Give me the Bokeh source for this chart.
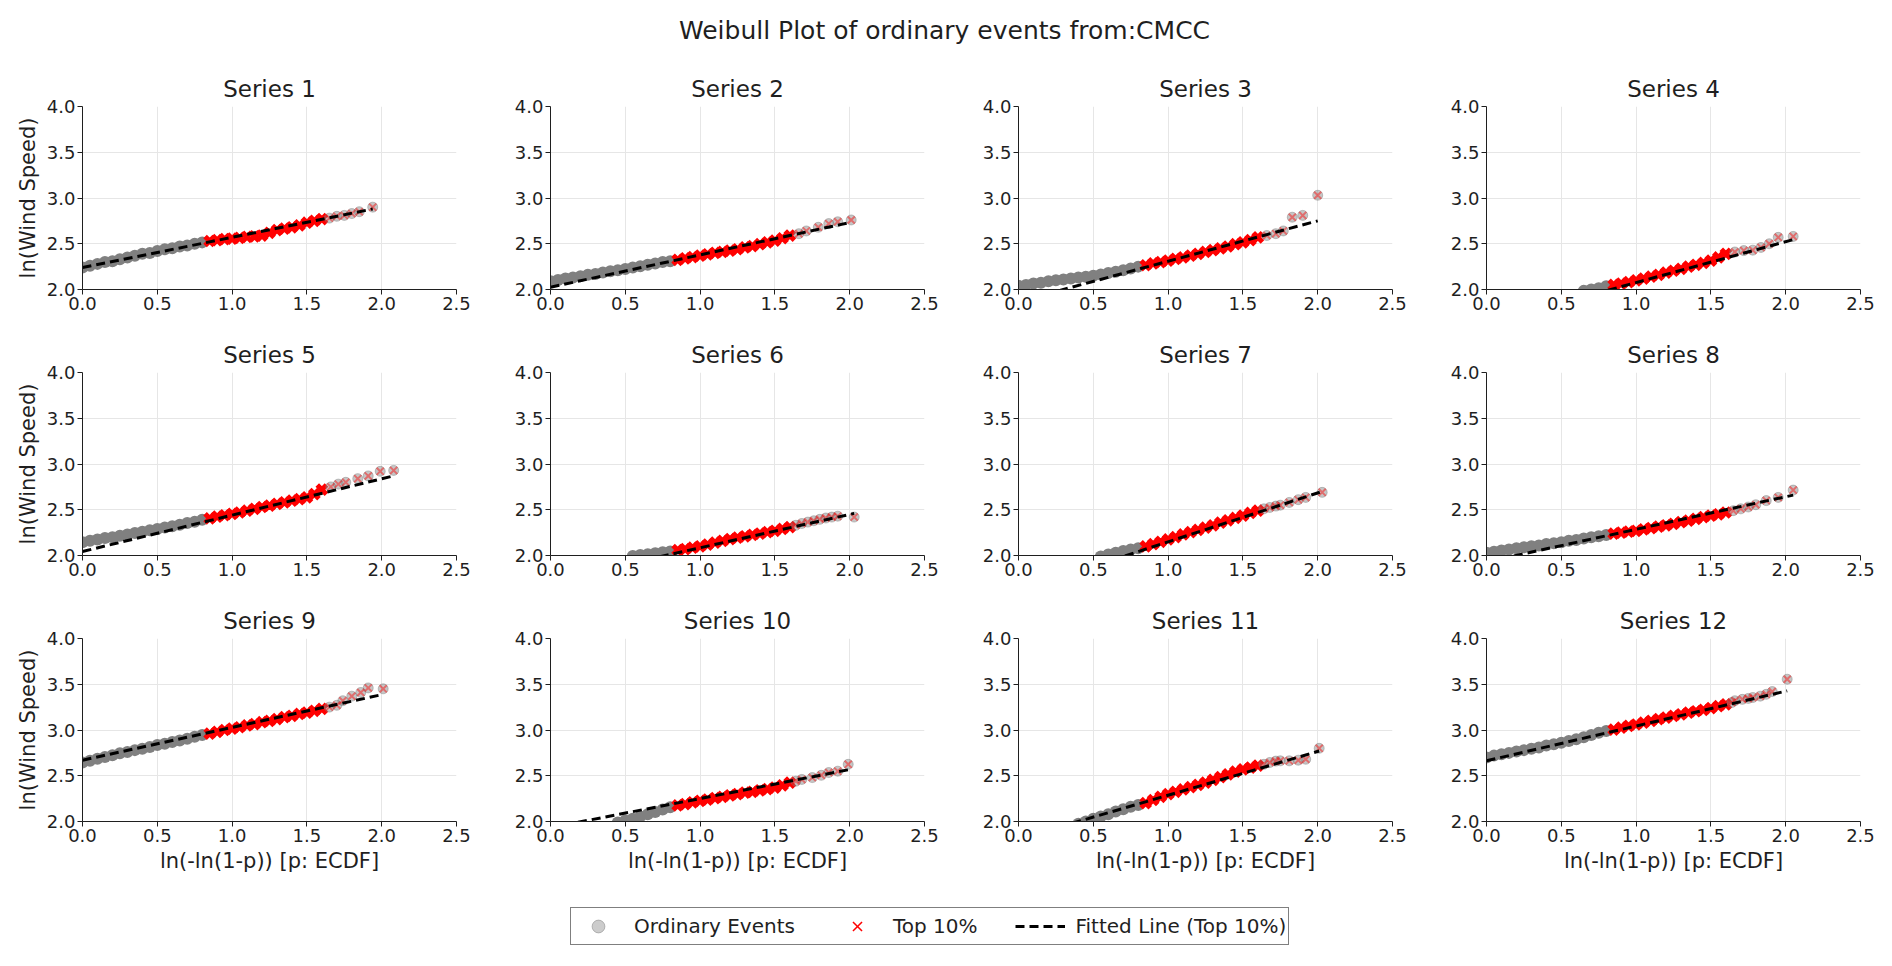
from bokeh.plotting import figure
from bokeh.layouts import column, row
from bokeh.models import FixedTicker, PrintfTickFormatter, Legend, LegendItem, Spacer
from bokeh.embed import file_html
from bokeh.resources import INLINE

FONT = "DejaVu Sans"
INK = "#1f1f1f"

main_title = "Weibull Plot of ordinary events from:CMCC"
x_label = "ln(-ln(1-p)) [p: ECDF]"
y_label = "ln(Wind Speed)"
x_ticks = [0.0, 0.5, 1.0, 1.5, 2.0, 2.5]
y_ticks = [2.0, 2.5, 3.0, 3.5, 4.0]
top_cut = 0.834  # ln(-ln(0.1)) -> top 10%

ecdf_grid = [0.00, 0.05, 0.10, 0.15, 0.20, 0.25, 0.30, 0.35, 0.40, 0.45, 0.50,
             0.55, 0.60, 0.65, 0.70, 0.75, 0.80, 0.85, 0.90, 0.95, 1.00, 1.05,
             1.10, 1.15, 1.20, 1.25, 1.30, 1.35, 1.40, 1.45, 1.50, 1.55, 1.60]

# ln(wind speed) on ecdf_grid, None where the band is below the plot
body_1 = [2.24, 2.26, 2.28, 2.30, 2.31, 2.33, 2.35, 2.37, 2.39, 2.40, 2.42,
          2.44, 2.45, 2.47, 2.48, 2.50, 2.515, 2.53, 2.54, 2.55, 2.555, 2.565,
          2.575, 2.58, 2.59, 2.62, 2.65, 2.665, 2.68, 2.70, 2.73, 2.75, 2.77]
body_2 = [2.09, 2.105, 2.12, 2.13, 2.145, 2.16, 2.17, 2.185, 2.20, 2.21, 2.225,
          2.24, 2.255, 2.27, 2.285, 2.30, 2.31, 2.325, 2.34, 2.355, 2.37, 2.385,
          2.40, 2.41, 2.425, 2.44, 2.46, 2.475, 2.495, 2.515, 2.535, 2.56, 2.59]
body_3 = [2.04, 2.05, 2.065, 2.075, 2.09, 2.10, 2.11, 2.12, 2.13, 2.14, 2.15,
          2.165, 2.18, 2.195, 2.21, 2.23, 2.25, 2.265, 2.285, 2.30, 2.315, 2.335,
          2.35, 2.37, 2.39, 2.41, 2.43, 2.45, 2.47, 2.495, 2.515, 2.54, 2.57]
body_4 = [None, None, None, None, None, None, None, None, None, None, None,
          None, None, 1.985, 2.00, 2.015, 2.035, 2.05, 2.065, 2.08, 2.10, 2.12,
          2.14, 2.16, 2.185, 2.205, 2.225, 2.25, 2.27, 2.29, 2.315, 2.35, 2.39]
body_5 = [2.145, 2.16, 2.175, 2.19, 2.20, 2.215, 2.23, 2.245, 2.26, 2.275, 2.29,
          2.305, 2.32, 2.335, 2.355, 2.37, 2.39, 2.405, 2.425, 2.44, 2.455, 2.47,
          2.49, 2.51, 2.53, 2.545, 2.565, 2.58, 2.60, 2.615, 2.635, 2.67, 2.72]
body_6 = [None, None, None, None, None, None, None, None, None, None, None,
          1.995, 2.005, 2.015, 2.025, 2.035, 2.045, 2.06, 2.07, 2.085, 2.10, 2.12,
          2.14, 2.16, 2.18, 2.195, 2.21, 2.225, 2.24, 2.255, 2.27, 2.29, 2.31]
body_7 = [None, None, None, None, None, None, None, None, None, None, None,
          1.99, 2.01, 2.03, 2.05, 2.065, 2.08, 2.10, 2.125, 2.15, 2.175, 2.20,
          2.23, 2.255, 2.28, 2.305, 2.33, 2.36, 2.385, 2.41, 2.435, 2.465, 2.49]
body_8 = [2.03, 2.04, 2.055, 2.065, 2.08, 2.09, 2.10, 2.11, 2.125, 2.135, 2.145,
          2.16, 2.17, 2.185, 2.20, 2.21, 2.225, 2.24, 2.25, 2.26, 2.27, 2.285,
          2.30, 2.315, 2.33, 2.345, 2.365, 2.38, 2.40, 2.42, 2.435, 2.45, 2.47]
body_9 = [2.645, 2.665, 2.685, 2.705, 2.725, 2.745, 2.76, 2.78, 2.795, 2.815, 2.835,
          2.85, 2.87, 2.885, 2.905, 2.925, 2.945, 2.96, 2.98, 3.00, 3.015, 3.03,
          3.05, 3.065, 3.085, 3.10, 3.12, 3.14, 3.155, 3.175, 3.19, 3.21, 3.23]
body_10 = [None, None, None, None, None, None, None, None, None, 1.99, 2.01,
           2.03, 2.055, 2.08, 2.105, 2.13, 2.155, 2.175, 2.19, 2.21, 2.225, 2.24,
           2.255, 2.27, 2.285, 2.30, 2.315, 2.325, 2.34, 2.355, 2.37, 2.395, 2.425]
body_11 = [None, None, None, None, None, None, None, None, 1.975, 2.00, 2.03,
           2.055, 2.08, 2.11, 2.135, 2.16, 2.18, 2.20, 2.235, 2.27, 2.30, 2.325,
           2.35, 2.375, 2.40, 2.425, 2.455, 2.485, 2.515, 2.545, 2.57, 2.59, 2.61]
body_12 = [2.70, 2.72, 2.735, 2.75, 2.765, 2.78, 2.795, 2.81, 2.83, 2.845, 2.86,
           2.88, 2.90, 2.92, 2.945, 2.97, 2.99, 3.005, 3.025, 3.045, 3.06, 3.08,
           3.10, 3.12, 3.135, 3.155, 3.17, 3.19, 3.205, 3.22, 3.24, 3.26, 3.28]

# sparse upper tail, point by point
tail_x_1 = [1.65, 1.70, 1.75, 1.80, 1.85, 1.94]
tail_y_1 = [2.78, 2.80, 2.81, 2.83, 2.85, 2.90]
tail_x_2 = [1.66, 1.71, 1.79, 1.86, 1.92, 2.01]
tail_y_2 = [2.61, 2.64, 2.68, 2.72, 2.74, 2.76]
tail_x_3 = [1.66, 1.72, 1.77, 1.83, 1.90, 2.00]
tail_y_3 = [2.59, 2.61, 2.64, 2.79, 2.81, 3.03]
tail_x_4 = [1.66, 1.72, 1.78, 1.835, 1.89, 1.95, 2.05]
tail_y_4 = [2.41, 2.425, 2.43, 2.46, 2.50, 2.57, 2.58]
tail_x_5 = [1.66, 1.71, 1.76, 1.84, 1.91, 1.99, 2.08]
tail_y_5 = [2.75, 2.78, 2.80, 2.84, 2.87, 2.92, 2.93]
tail_x_6 = [1.64, 1.68, 1.72, 1.76, 1.80, 1.84, 1.88, 1.92, 2.03]
tail_y_6 = [2.33, 2.35, 2.365, 2.38, 2.395, 2.41, 2.42, 2.43, 2.42]
tail_x_7 = [1.64, 1.68, 1.72, 1.75, 1.81, 1.87, 1.92, 2.03]
tail_y_7 = [2.51, 2.525, 2.54, 2.55, 2.58, 2.61, 2.635, 2.69]
tail_x_8 = [1.65, 1.70, 1.75, 1.80, 1.87, 1.95, 2.05]
tail_y_8 = [2.49, 2.51, 2.53, 2.555, 2.60, 2.635, 2.715]
tail_x_9 = [1.65, 1.70, 1.74, 1.80, 1.86, 1.91, 2.01]
tail_y_9 = [3.25, 3.27, 3.32, 3.37, 3.41, 3.46, 3.45]
tail_x_10 = [1.64, 1.68, 1.75, 1.81, 1.86, 1.92, 1.99]
tail_y_10 = [2.44, 2.46, 2.48, 2.505, 2.535, 2.55, 2.625]
tail_x_11 = [1.64, 1.68, 1.72, 1.75, 1.81, 1.87, 1.92, 2.01]
tail_y_11 = [2.625, 2.645, 2.66, 2.663, 2.663, 2.67, 2.68, 2.80]
tail_x_12 = [1.64, 1.66, 1.71, 1.75, 1.78, 1.83, 1.87, 1.91, 2.01]
tail_y_12 = [3.30, 3.32, 3.335, 3.345, 3.355, 3.37, 3.39, 3.42, 3.555]

# fitted line (top 10%): value at x = 0 and at the last point
fit_y_start = [2.24, 2.025, 1.868, 1.629, 2.044, 1.72, 1.615, 1.93, 2.67, 1.933, 1.809, 2.663]
fit_y_end = [2.88, 2.735, 2.75, 2.545, 2.87, 2.46, 2.70, 2.66, 3.39, 2.565, 2.77, 3.428]

bodies = [body_1, body_2, body_3, body_4, body_5, body_6,
          body_7, body_8, body_9, body_10, body_11, body_12]
tails_x = [tail_x_1, tail_x_2, tail_x_3, tail_x_4, tail_x_5, tail_x_6,
           tail_x_7, tail_x_8, tail_x_9, tail_x_10, tail_x_11, tail_x_12]
tails_y = [tail_y_1, tail_y_2, tail_y_3, tail_y_4, tail_y_5, tail_y_6,
           tail_y_7, tail_y_8, tail_y_9, tail_y_10, tail_y_11, tail_y_12]


def make_panel(i, last_row, first_col):
    h = 283 if last_row else 266
    p = figure(width=468, height=h, x_range=(0, 2.5), y_range=(2, 4),
               toolbar_location=None, tools="", output_backend="svg",
               min_border_left=74, min_border_right=20, min_border_top=40,
               min_border_bottom=60 if last_row else 43)
    p.title.text = "Series %d" % (i + 1)
    p.title.align = "center"
    p.title.text_font = FONT
    p.title.text_font_size = "23px"
    p.title.text_font_style = "normal"
    p.title.text_color = INK
    p.title.standoff = 10
    p.outline_line_color = None

    pts = [(x, y) for x, y in zip(ecdf_grid, bodies[i]) if y is not None]
    ord_x = [x for x, y in pts if x < top_cut]
    ord_y = [y for x, y in pts if x < top_cut]
    top_x = [x for x, y in pts if x >= top_cut]
    top_y = [y for x, y in pts if x >= top_cut]

    # dense part: many overlapping events, drawn opaque
    p.scatter(ord_x, ord_y, marker="circle", size=12, fill_color="#808080",
              line_color=None)
    p.scatter(top_x, top_y, marker="x", size=13, line_color="red", line_width=5)
    # sparse tail: single translucent events
    p.scatter(tails_x[i], tails_y[i], marker="circle", size=10, fill_color="gray",
              fill_alpha=0.45, line_color="gray", line_alpha=0.45)
    p.scatter(tails_x[i], tails_y[i], marker="x", size=10, line_color="red",
              line_alpha=0.45, line_width=2)
    p.line([0, tails_x[i][-1]], [fit_y_start[i], fit_y_end[i]],
           line_color="black", line_width=3, line_dash="9 5")

    p.xaxis.ticker = FixedTicker(ticks=x_ticks)
    p.yaxis.ticker = FixedTicker(ticks=y_ticks)
    p.xaxis.formatter = PrintfTickFormatter(format="%.1f")
    p.yaxis.formatter = PrintfTickFormatter(format="%.1f")
    p.grid.grid_line_color = "#e6e6e6"
    p.grid.grid_line_width = 1
    p.axis.axis_line_color = INK
    p.axis.major_tick_line_color = INK
    p.axis.major_tick_out = 5
    p.axis.major_tick_in = 0
    p.axis.minor_tick_line_color = None
    p.axis.major_label_text_font = FONT
    p.axis.major_label_text_font_size = "18px"
    p.axis.major_label_text_color = INK
    p.axis.major_label_standoff = 2
    p.axis.axis_label_text_font = FONT
    p.axis.axis_label_text_font_size = "21px"
    p.axis.axis_label_text_font_style = "normal"
    p.axis.axis_label_text_color = INK
    p.axis.axis_label_standoff = 4
    if first_col:
        p.yaxis.axis_label = y_label
    if last_row:
        p.xaxis.axis_label = x_label
    return p


panels = [make_panel(i, i >= 8, i % 4 == 0) for i in range(12)]

head = figure(width=1872, height=66, x_range=(0, 1), y_range=(0, 1),
              x_axis_type=None, y_axis_type=None, toolbar_location=None, tools="",
              output_backend="svg", min_border_left=0, min_border_right=0,
              min_border_bottom=0, min_border_top=49, title=main_title)
head.outline_line_color = None
head.grid.visible = False
head.title.align = "center"
head.title.text_font = FONT
head.title.text_font_size = "25px"
head.title.text_font_style = "normal"
head.title.text_color = INK

foot = figure(width=1872, height=75, x_range=(0, 1), y_range=(0, 1),
              x_axis_type=None, y_axis_type=None, toolbar_location=None, tools="",
              output_backend="svg", min_border=0)
foot.outline_line_color = None
foot.grid.visible = False
nan = float("nan")
r_ord = foot.scatter([nan], [nan], marker="circle", fill_color="gray", fill_alpha=0.4,
                     line_color="gray", line_alpha=0.5)
r_top = foot.scatter([nan], [nan], marker="x", line_color="red", line_width=1.5)
r_fit = foot.line([nan, nan], [nan, nan], line_color="black", line_width=3,
                  line_dash="9 5")
legend = Legend(items=[LegendItem(label="Ordinary Events", renderers=[r_ord]),
                       LegendItem(label="Top 10%", renderers=[r_top]),
                       LegendItem(label="Fitted Line (Top 10%)", renderers=[r_fit])],
                orientation="horizontal", location=(562, 11),
                glyph_width=50, glyph_height=32, label_standoff=11, spacing=37,
                padding=2, margin=0, border_line_color="black", border_line_width=1,
                label_text_font=FONT, label_text_font_size="20px",
                label_text_color=INK, background_fill_color="white")
foot.add_layout(legend, "center")

layout = row(Spacer(width=8),
             column(head,
                    row(*panels[0:4]),
                    row(*panels[4:8]),
                    row(*panels[8:12]),
                    foot))

open("out.html", "w").write(file_html(layout, INLINE))
